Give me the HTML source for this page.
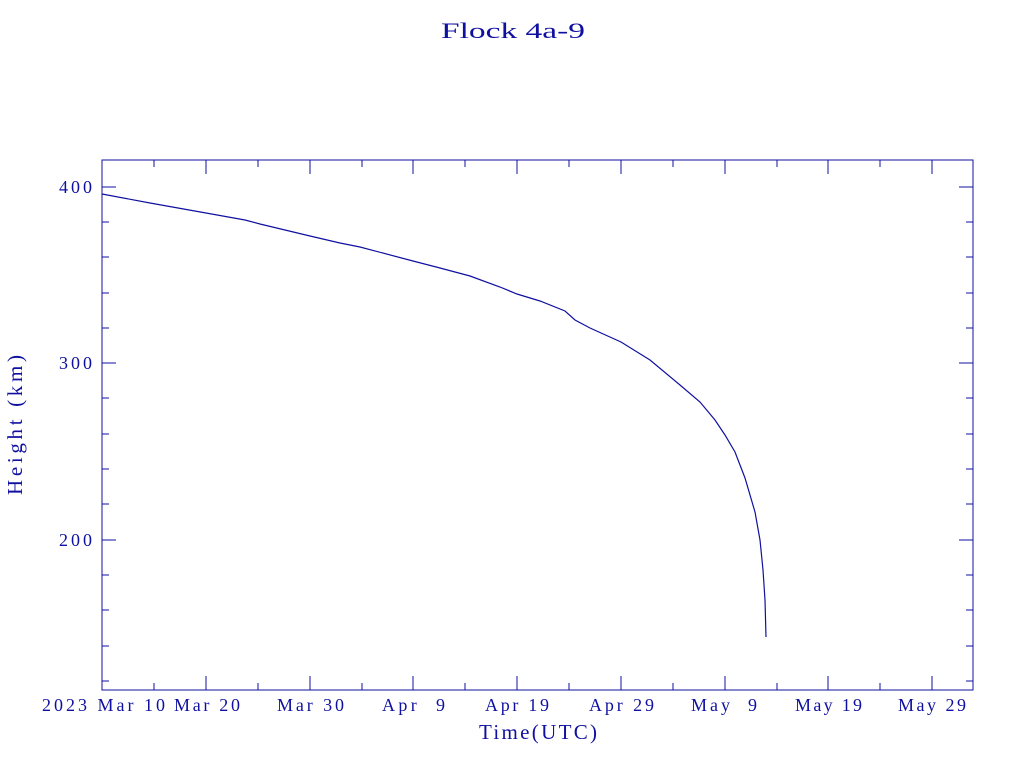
<!DOCTYPE html>
<html><head><style>body{margin:0;background:#fff}svg{display:block}text{font-family:"Liberation Serif",serif;fill:#1010a0;white-space:pre}</style></head><body>
<svg width="1024" height="768" viewBox="0 0 1024 768" xml:space="preserve">
<text x="513" y="38" font-size="22" text-anchor="middle" textLength="144" lengthAdjust="spacingAndGlyphs">Flock 4a-9</text>
<rect x="102" y="160" width="871" height="530" fill="none" stroke="#1010a0" stroke-width="1"/>
<g stroke="#1010a0" stroke-width="1">
<line x1="102" y1="187" x2="116" y2="187"/><line x1="959" y1="187" x2="973" y2="187"/>
<line x1="102" y1="363" x2="116" y2="363"/><line x1="959" y1="363" x2="973" y2="363"/>
<line x1="102" y1="540" x2="116" y2="540"/><line x1="959" y1="540" x2="973" y2="540"/>
<line x1="102" y1="222" x2="109" y2="222"/><line x1="966" y1="222" x2="973" y2="222"/>
<line x1="102" y1="257" x2="109" y2="257"/><line x1="966" y1="257" x2="973" y2="257"/>
<line x1="102" y1="293" x2="109" y2="293"/><line x1="966" y1="293" x2="973" y2="293"/>
<line x1="102" y1="328" x2="109" y2="328"/><line x1="966" y1="328" x2="973" y2="328"/>
<line x1="102" y1="398" x2="109" y2="398"/><line x1="966" y1="398" x2="973" y2="398"/>
<line x1="102" y1="434" x2="109" y2="434"/><line x1="966" y1="434" x2="973" y2="434"/>
<line x1="102" y1="469" x2="109" y2="469"/><line x1="966" y1="469" x2="973" y2="469"/>
<line x1="102" y1="504" x2="109" y2="504"/><line x1="966" y1="504" x2="973" y2="504"/>
<line x1="102" y1="575" x2="109" y2="575"/><line x1="966" y1="575" x2="973" y2="575"/>
<line x1="102" y1="610" x2="109" y2="610"/><line x1="966" y1="610" x2="973" y2="610"/>
<line x1="102" y1="646" x2="109" y2="646"/><line x1="966" y1="646" x2="973" y2="646"/>
<line x1="102" y1="681" x2="109" y2="681"/><line x1="966" y1="681" x2="973" y2="681"/>
<g id="xt">
<line x1="206" y1="690" x2="206" y2="676"/><line x1="310" y1="690" x2="310" y2="676"/><line x1="413" y1="690" x2="413" y2="676"/><line x1="517" y1="690" x2="517" y2="676"/><line x1="621" y1="690" x2="621" y2="676"/><line x1="725" y1="690" x2="725" y2="676"/><line x1="828" y1="690" x2="828" y2="676"/><line x1="932" y1="690" x2="932" y2="676"/>
<line x1="154" y1="690" x2="154" y2="683"/><line x1="258" y1="690" x2="258" y2="683"/><line x1="362" y1="690" x2="362" y2="683"/><line x1="465" y1="690" x2="465" y2="683"/><line x1="569" y1="690" x2="569" y2="683"/><line x1="673" y1="690" x2="673" y2="683"/><line x1="777" y1="690" x2="777" y2="683"/><line x1="880" y1="690" x2="880" y2="683"/>
</g>
<use href="#xt" transform="translate(0,850) scale(1,-1)"/>
</g>
<g font-size="18" lengthAdjust="spacingAndGlyphs">
<text x="59" y="193" textLength="33">400</text><text x="59" y="369" textLength="33">300</text><text x="59" y="546" textLength="33">200</text>
<text x="42" y="711" textLength="123">2023 Mar 10</text>
<text x="174" y="711" textLength="66">Mar 20</text>
<text x="277" y="711" textLength="67">Mar 30</text>
<text x="382" y="711" textLength="63">Apr  9</text>
<text x="485" y="711" textLength="64">Apr 19</text>
<text x="589" y="711" textLength="65">Apr 29</text>
<text x="691" y="711" textLength="66">May  9</text>
<text x="795" y="711" textLength="67">May 19</text>
<text x="898" y="711" textLength="68">May 29</text>
<text x="479" y="739" font-size="21" textLength="118">Time(UTC)</text>
<text transform="translate(22,495) rotate(-90)" font-size="21" textLength="140">Height (km)</text>
</g>
<polyline fill="none" stroke="#1010a0" stroke-width="1.2" points="102,194 150,203 206,213 245,220 260,224 310,236 340,243 360,247 413,261 440,268 470,276 500,287 517,294 540,301 565,311 575,320 590,328 621,342 650,360 680,385 700,402 715,420 725,435 735,452 745,478 755,512 760,540 763,570 765,600 766,637"/>
</svg>
</body></html>
